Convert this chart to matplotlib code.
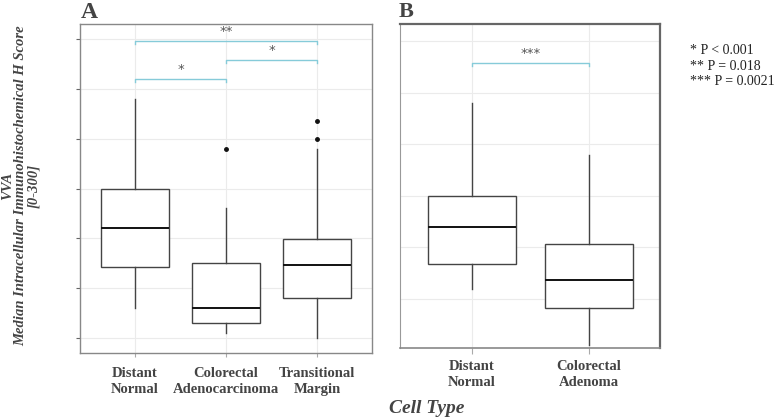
import matplotlib.pyplot as plt

# panel A summary stats (arbitrary H score units)
cats_a = ["Distant\nNormal", "Colorectal\nAdenocarcinoma", "Transitional\nMargin"]
whislo_a = [30, 5, 0]
q1_a = [71, 15, 40]
med_a = [110, 30, 73]
q3_a = [150, 75, 99]
whishi_a = [240, 130, 190]
fliers_a = [[], [190], [200, 218]]

# panel B
cats_b = ["Distant\nNormal", "Colorectal\nAdenoma"]
whislo_b = [60, 5]
q1_b = [84, 41]
med_b = [120, 68]
q3_b = [150, 103]
whishi_b = [240, 190]
fliers_b = [[], []]

# significance brackets: (from, to, height, label)
sig_a = [(1, 2, 260, "*"), (2, 3, 279, "*"), (1, 3, 298, "**")]
sig_b = [(1, 2, 279, "***")]
pvals = ["* P < 0.001", "** P = 0.018", "*** P = 0.0021"]

serif = "Liberation Serif"
dark = "#444444"
bracket_col = "#86cbd9"

fig = plt.figure(figsize=(7.78, 4.18), dpi=100)
ax_a = fig.add_axes([0.1028, 0.1555, 0.3753, 0.787])
ax_b = fig.add_axes([0.514, 0.1675, 0.334, 0.775])


def make_stats(lo, q1, med, q3, hi, fl):
    return [dict(whislo=a, q1=b, med=c, q3=d, whishi=e, fliers=f)
            for a, b, c, d, e, f in zip(lo, q1, med, q3, hi, fl)]


def draw_panel(ax, stats, cats, sig, yticks):
    pos = list(range(1, len(cats) + 1))
    ax.bxp(stats, positions=pos, widths=0.75, showcaps=False, patch_artist=True,
           boxprops=dict(facecolor="white", edgecolor=dark, linewidth=1),
           whiskerprops=dict(color=dark, linewidth=1),
           medianprops=dict(color="#111111", linewidth=1.4),
           flierprops=dict(marker="o", markersize=2.5, markerfacecolor="#111111",
                           markeredgecolor="#111111"))
    ax.set_xticks(pos)
    ax.set_xticklabels(cats, fontfamily=serif, fontweight="bold", fontsize=10.5,
                       color=dark, linespacing=1.3)
    ax.set_yticks(yticks)
    ax.set_yticklabels([])
    ax.grid(True, color="#ebebeb", linewidth=0.8)
    ax.set_axisbelow(True)
    for x1, x2, h, lab in sig:
        ax.plot([x1, x1, x2, x2], [h - 3, h, h, h - 3], color=bracket_col, lw=1)
        ax.text((x1 + x2) / 2, h + 3, lab, ha="center", va="bottom",
                fontsize=9.5, color="#555555")


draw_panel(ax_a, make_stats(whislo_a, q1_a, med_a, q3_a, whishi_a, fliers_a),
           cats_a, sig_a, [0, 50, 100, 150, 200, 250, 300])
ax_a.set_xlim(0.396, 3.604)
ax_a.set_ylim(-15, 315)
ax_a.tick_params(axis="y", length=3, color="#666666")
ax_a.tick_params(axis="x", length=3, color="#aaaaaa", pad=7)
for s in ax_a.spines.values():
    s.set_color("#888888")
    s.set_linewidth(1)

draw_panel(ax_b, make_stats(whislo_b, q1_b, med_b, q3_b, whishi_b, fliers_b),
           cats_b, sig_b, [50, 100, 150, 200, 250, 300])
ax_b.set_xlim(0.385, 2.607)
ax_b.set_ylim(2.5, 316.5)
ax_b.tick_params(axis="y", length=0)
ax_b.tick_params(axis="x", length=4, color="#aaaaaa", pad=5)
ax_b.spines["left"].set_color("#999999")
ax_b.spines["left"].set_linewidth(0.8)
ax_b.spines["bottom"].set_color("#888888")
ax_b.spines["bottom"].set_linewidth(1.2)
ax_b.spines["top"].set_color("#666666")
ax_b.spines["top"].set_linewidth(1.6)
ax_b.spines["right"].set_color("#666666")
ax_b.spines["right"].set_linewidth(1.6)

fig.text(0.104, 0.996, "A", fontfamily=serif, fontweight="bold", fontsize=17,
         color=dark, ha="left", va="top")
fig.text(0.512, 0.996, "B", fontfamily=serif, fontweight="bold", fontsize=16,
         color=dark, ha="left", va="top")

fig.text(0.026, 0.555,
         "VVA\nMedian Intracellular Immunohistochemical H Score\n[0-300]",
         rotation=90, ha="center", va="center", multialignment="center",
         fontfamily=serif, fontweight="bold", fontstyle="italic", fontsize=10.5,
         color=dark, linespacing=1.0)

fig.text(0.549, 0.003, "Cell Type", fontfamily=serif, fontweight="bold",
         fontstyle="italic", fontsize=14, color=dark, ha="center", va="bottom")

for i, t in enumerate(pvals):
    fig.text(0.887, 0.878 - i * 0.037, t, fontfamily=serif, fontsize=10,
             color="#222222", ha="left", va="center")

fig.savefig("out.png", dpi=100)
